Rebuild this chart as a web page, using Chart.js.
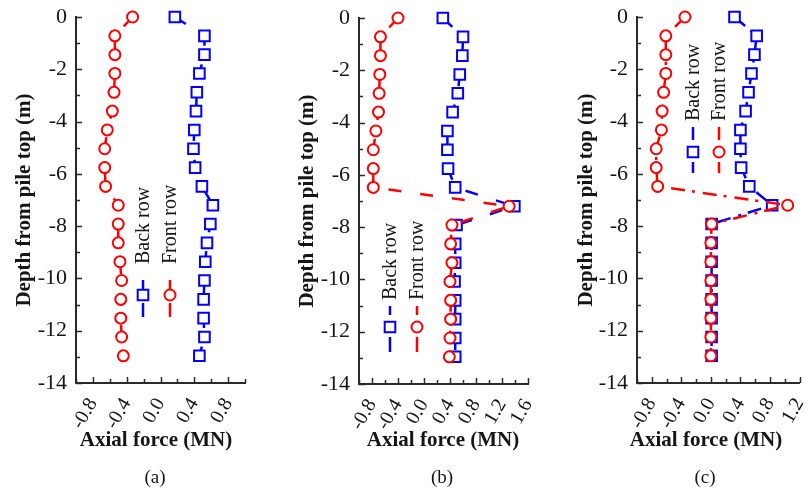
<!DOCTYPE html>
<html>
<head>
<meta charset="utf-8">
<script src="https://cdn.jsdelivr.net/npm/chart.js@4.4.1/dist/chart.umd.min.js"></script>
<style>
  body { margin: 0; background: #fff; }
  #wrap { position: relative; width: 809px; height: 493px; overflow: hidden; }
  canvas { position: absolute; top: 0; }
</style>
</head>
<body>
<div id="wrap">
  <canvas id="pa" width="270" height="493" style="left:0px"></canvas>
  <canvas id="pb" width="270" height="493" style="left:270px"></canvas>
  <canvas id="pc" width="269" height="493" style="left:540px"></canvas>
</div>
<script>
// depth of each gauge below pile top (m)
const depth = [0, -0.72, -1.44, -2.16, -2.88, -3.6, -4.32, -5.04, -5.76, -6.48,
               -7.2, -7.92, -8.64, -9.36, -10.08, -10.8, -11.52, -12.24, -12.96];

// axial force (MN), panel (a)
const frontA = [-0.33, -0.54, -0.54, -0.54, -0.55, -0.57, -0.63, -0.66, -0.66, -0.65,
                -0.50, -0.50, -0.50, -0.48, -0.46, -0.47, -0.47, -0.46, -0.44];
const backA  = [0.17, 0.52, 0.52, 0.46, 0.43, 0.42, 0.40, 0.39, 0.41, 0.49,
                0.62, 0.59, 0.55, 0.53, 0.52, 0.51, 0.51, 0.52, 0.46];

// panel (b)
const frontB = [-0.40, -0.67, -0.67, -0.68, -0.69, -0.70, -0.74, -0.78, -0.78, -0.78,
                1.31, 0.43, 0.41, 0.43, 0.40, 0.41, 0.41, 0.40, 0.39];
const backB  = [0.29, 0.60, 0.59, 0.55, 0.52, 0.44, 0.36, 0.36, 0.37, 0.48,
                1.39, 0.50, 0.48, 0.48, 0.47, 0.48, 0.48, 0.48, 0.48];

// panel (c)
const frontC = [-0.35, -0.61, -0.61, -0.61, -0.64, -0.66, -0.67, -0.74, -0.74, -0.72,
                1.04, 0.01, 0.0, 0.0, 0.0, 0.0, 0.0, 0.0, 0.0];
const backC  = [0.32, 0.62, 0.59, 0.55, 0.51, 0.47, 0.40, 0.40, 0.41, 0.52,
                0.83, 0.01, 0.01, 0.01, 0.01, 0.01, 0.01, 0.01, 0.01];

// tick labels
const xLabelsA = [-0.8, -0.4, 0.0, 0.4, 0.8];
const xLabelsB = [-0.8, -0.4, 0.0, 0.4, 0.8, 1.2, 1.6];
const xLabelsC = [-0.8, -0.4, 0.0, 0.4, 0.8, 1.2];
const depthLabels = [0, -2, -4, -6, -8, -10, -12, -14];

const seriesNames = ['Front row', 'Back row'];
const captions = ['(a)', '(b)', '(c)'];

const INK = '#161616';
const AXIS = '#2a2a2a';
const RED = '#ff0000';
const BLUE = '#0000ff';
const FONT = "'Liberation Serif', 'Times New Roman', serif";
const H = 493;
const X_AXIS_H = 70;

Chart.defaults.font.family = FONT;
Chart.defaults.color = INK;

const near = (list, v) => list.some(l => Math.abs(l - v) < 1e-6);

// tick marks pointing into the plot, long for labelled ticks
const innerTicks = {
  id: 'innerTicks',
  afterDraw(chart, args, opts) {
    const { ctx, chartArea: a, scales: { x, y } } = chart;
    ctx.save();
    ctx.strokeStyle = AXIS;
    ctx.lineWidth = 1.5;
    ctx.beginPath();
    x.ticks.forEach(t => {
      const px = Math.round(x.getPixelForValue(t.value)) + 0.5;
      const len = near(opts.xLabels, t.value) ? 6 : 4;
      ctx.moveTo(px, a.bottom);
      ctx.lineTo(px, a.bottom - len);
    });
    y.ticks.forEach(t => {
      const py = Math.round(y.getPixelForValue(t.value)) + 0.5;
      const len = near(depthLabels, t.value) ? 6 : 4;
      ctx.moveTo(a.left, py);
      ctx.lineTo(a.left + len, py);
    });
    ctx.stroke();
    ctx.restore();
  }
};

// vertical legend, x-axis title and caption
const panelText = {
  id: 'panelText',
  afterDraw(chart, args, opts) {
    const { ctx } = chart;
    ctx.save();
    const lg = opts.legend;
    // back row first, then front row
    [1, 0].forEach((di, k) => {
      const ds = chart.data.datasets[di];
      const x = lg.xs[k];
      ctx.strokeStyle = ds.borderColor;
      ctx.lineWidth = 2.5;
      ctx.beginPath();
      ctx.moveTo(x, lg.top);
      ctx.lineTo(x, lg.top + lg.topLen);
      ctx.moveTo(x, lg.bottom - lg.botLen);
      ctx.lineTo(x, lg.bottom);
      ctx.stroke();
      ctx.lineWidth = 2;
      ctx.fillStyle = '#fff';
      ctx.beginPath();
      if (ds.pointStyle === 'rect') {
        const s = ds.pointRadius * Math.SQRT1_2;
        ctx.rect(x - s, lg.cy - s, 2 * s, 2 * s);
      } else {
        ctx.arc(x, lg.cy, ds.pointRadius, 0, Math.PI * 2);
      }
      ctx.fill();
      ctx.stroke();

      ctx.save();
      ctx.translate(x, lg.textY);
      ctx.rotate(-Math.PI / 2);
      ctx.fillStyle = INK;
      ctx.font = '20px ' + FONT;
      ctx.textAlign = 'left';
      ctx.textBaseline = 'middle';
      ctx.fillText(ds.label, 0, 1);
      ctx.restore();
    });

    ctx.fillStyle = INK;
    ctx.textAlign = 'center';
    ctx.textBaseline = 'middle';
    ctx.font = 'bold 21px ' + FONT;
    ctx.fillText('Axial force (MN)', opts.titleX, 441);
    ctx.font = '19px ' + FONT;
    ctx.fillText(opts.caption, opts.titleX - 1, 478);
    ctx.restore();
  }
};

const panels = [
  { id: 'pa', left: 0, width: 270, axisLeft: 76, axisRight: 245, top: 17, bottom: 383,
    yTitleX: 25, xMin: -1.0, xMax: 1.0, xLabels: xLabelsA, front: frontA, back: backA,
    dash: [13, 19], titleX: 156, caption: captions[0],
    legend: { xs: [143, 170], top: 280, bottom: 317, topLen: 10, botLen: 14, cy: 295, textY: 264 } },
  { id: 'pb', left: 270, width: 270, axisLeft: 359, axisRight: 528, top: 18, bottom: 384,
    yTitleX: 308, xMin: -1.0, xMax: 1.6, xLabels: xLabelsB, front: frontB, back: backB,
    dash: [13, 19], titleX: 443, caption: captions[1],
    legend: { xs: [390, 417], top: 306, bottom: 352, topLen: 9, botLen: 15, cy: 327, textY: 300 } },
  { id: 'pc', left: 540, width: 269, axisLeft: 637, axisRight: 807, top: 17, bottom: 383,
    yTitleX: 587, xMin: -1.0, xMax: 1.2, xLabels: xLabelsC, front: frontC, back: backC,
    dash: [14, 7, 3, 8], titleX: 706, caption: captions[2],
    legend: { xs: [693, 719], top: 127, bottom: 173, topLen: 13, botLen: 11, cy: 152, textY: 121 } }
];

function makePanel(p) {
  const pts = vals => vals.map((v, i) => ({ x: v, y: depth[i] }));
  const shift = v => v - p.left;
  const lg = p.legend;

  return new Chart(document.getElementById(p.id), {
    type: 'line',
    data: {
      datasets: [
        {
          label: seriesNames[0],
          data: pts(p.front),
          clip: false,
          borderColor: RED,
          backgroundColor: '#fff',
          borderWidth: 2.5,
          borderDash: p.dash,
          pointStyle: 'circle',
          pointRadius: 5.5,
          pointBorderWidth: 2,
          pointBackgroundColor: '#fff',
          pointBorderColor: RED,
          tension: 0,
          fill: false,
        },
        {
          label: seriesNames[1],
          data: pts(p.back),
          clip: false,
          borderColor: BLUE,
          backgroundColor: '#fff',
          borderWidth: 2.5,
          borderDash: p.dash,
          pointStyle: 'rect',
          pointRadius: 7.5,
          pointBorderWidth: 2,
          pointBackgroundColor: '#fff',
          pointBorderColor: BLUE,
          tension: 0,
          fill: false,
        },
      ],
    },
    options: {
      responsive: false,
      animation: false,
      events: [],
      layout: {
        padding: {
          left: 0,
          right: p.width - (p.axisRight - p.left),
          top: p.top,
          bottom: H - p.bottom - X_AXIS_H,
        },
      },
      plugins: {
        legend: { display: false },
        tooltip: { enabled: false },
        innerTicks: { xLabels: p.xLabels },
        panelText: {
          titleX: shift(p.titleX),
          caption: p.caption,
          legend: {
            xs: lg.xs.map(shift), top: lg.top, bottom: lg.bottom,
            topLen: lg.topLen, botLen: lg.botLen, cy: lg.cy, textY: lg.textY,
          },
        },
      },
      scales: {
        x: {
          type: 'linear',
          position: 'bottom',
          min: p.xMin,
          max: p.xMax,
          grid: { display: false, drawTicks: false },
          border: { display: true, color: AXIS, width: 2 },
          ticks: {
            stepSize: 0.2,
            autoSkip: false,
            minRotation: 60,
            maxRotation: 60,
            padding: 11,
            color: INK,
            font: { size: 20 },
            callback: v => near(p.xLabels, v) ? (Math.abs(v) < 1e-9 ? '0.0' : v.toFixed(1)) : '',
          },
          afterFit(s) {
            s.height = X_AXIS_H;
            s.paddingLeft = 0;
            s.paddingRight = 0;
          },
        },
        y: {
          type: 'linear',
          min: -14,
          max: 0,
          grid: { display: false, drawTicks: false },
          border: { display: true, color: AXIS, width: 2 },
          ticks: {
            stepSize: 1,
            autoSkip: false,
            padding: 9,
            color: INK,
            font: { size: 22 },
            callback: v => near(depthLabels, v) ? String(Math.round(v)) : '',
          },
          title: {
            display: true,
            text: 'Depth from pile top (m)',
            color: INK,
            font: { size: 21, weight: 'bold' },
            padding: { top: p.yTitleX - p.left - 12.6, bottom: 0 },
          },
          afterFit(s) {
            s.width = p.axisLeft - p.left;
            s.paddingTop = 0;
            s.paddingBottom = 0;
          },
        },
      },
    },
    plugins: [innerTicks, panelText],
  });
}

panels.forEach(makePanel);
</script>
</body>
</html>
